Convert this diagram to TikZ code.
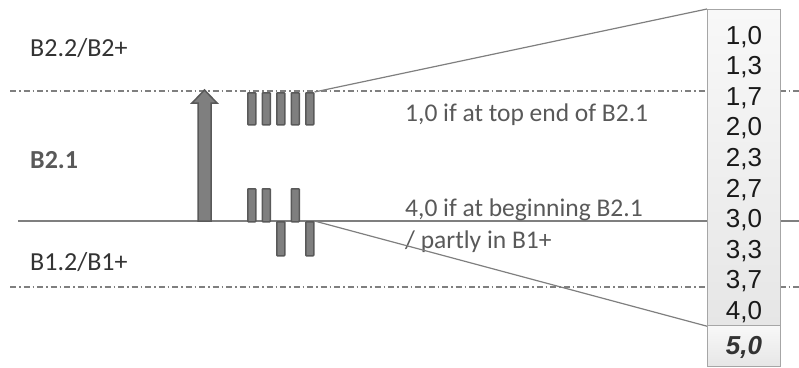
\documentclass[tikz,border=0pt]{standalone}
\usepackage{fontspec}
\setmainfont{Carlito}
\newfontfamily\numfont{Liberation Sans}
\definecolor{linegray}{HTML}{7F7F7F}
\definecolor{edgegray}{HTML}{595959}
\definecolor{txtgray}{HTML}{333333}
\definecolor{boxedge}{HTML}{A6A6A6}
\definecolor{boxtop}{HTML}{F8F8F8}
\definecolor{boxbot}{HTML}{E6E6E6}
\newcommand{\gradefont}{\numfont\fontsize{26}{30}\selectfont}
\tikzset{
  level/.style={anchor=base west, inner sep=0pt, text=txtgray, font=\fontsize{26}{30}\selectfont},
  note/.style={anchor=base west, inner sep=0pt, text=edgegray, font=\fontsize{25.5}{30}\selectfont},
  dashdot/.style={draw=linegray, line width=1.2pt, dash pattern=on 6pt off 3pt on 1.5pt off 3pt},
  bar/.style={draw=edgegray, fill=linegray, line width=1.5pt, rounded corners=0.8pt,
              minimum width=8pt, minimum height=32pt, inner sep=0pt, anchor=north west},
  grade/.style={anchor=base, inner sep=0pt, text=black!90},
  cell/.style={draw=boxedge, line width=1.2pt, top color=boxtop, bottom color=boxbot,
               inner sep=0pt, anchor=north west, minimum width=73pt},
  fan/.style={draw=linegray, line width=1.2pt}
}
\begin{document}
\begin{tikzpicture}[x=1pt, y=-1pt]
\useasboundingbox (0,0) rectangle (799,367);

% level boundaries
\coordinate (topL) at (10,91);
\coordinate (topR) at (799,91);
\coordinate (midL) at (18,221);
\coordinate (midR) at (799,221);
\coordinate (lowL) at (10,287);
\coordinate (lowR) at (799,287);
\draw[dashdot] (topL) -- (topR);
\draw[draw=linegray, line width=1.5pt] (midL) -- (midR);
\draw[dashdot] (lowL) -- (lowR);

% level names
\node[level] (lvlB22) at (30,56) {B2.2/B2+};
\node[level, text=edgegray, font=\fontsize{26}{30}\selectfont\bfseries] (lvlB21) at (30,168) {B2.1};
\node[level] (lvlB12) at (30,270) {B1.2/B1+};

% progress arrow through B2.1
\draw[draw=edgegray, fill=linegray, line width=1.5pt, line join=miter]
  (198,221) -- (198,103) -- (192,103) -- (204.5,90) -- (217,103) -- (211,103) -- (211,221) -- cycle;

% bars at the top end of B2.1
\node[bar] (t1) at (247,92) {};
\node[bar] (t2) at (261.5,92) {};
\node[bar] (t3) at (276,92) {};
\node[bar] (t4) at (290.5,92) {};
\node[bar] (t5) at (305,92) {};

% bars at the beginning of B2.1 / partly in B1+
\node[bar, minimum height=33pt] (b1) at (247,188) {};
\node[bar, minimum height=33pt] (b2) at (261.5,188) {};
\node[bar, minimum height=34pt] (b3) at (276,221) {};
\node[bar, minimum height=33pt] (b4) at (290.5,188) {};
\node[bar, minimum height=34pt] (b5) at (305,221) {};

% explanations
\node[note] (noteTop) at (405,121) {1,0 if at top end of B2.1};
\node[note] (noteLow1) at (405,216) {4,0 if at beginning B2.1};
\node[note] (noteLow2) at (405,248) {/ partly in B1+};

% grade scale
\node[cell, minimum height=316pt] (scale) at (707,9) {};
\node[cell, minimum height=41pt] (fail) at (707,325) {};
\foreach \g [count=\i from 0] in {{1,0},{1,3},{1,7},{2,0},{2,3},{2,7},{3,0},{3,3},{3,7},{4,0}}{
  \node[grade] (g\i) at (744,{44+30.6*\i}) {\gradefont\g};
}
\node[grade, text=black!80] (g10) at (744,354) {\gradefont\bfseries\itshape 5,0};

% fan from the bars to the scale
\draw[fan] (t5.north east) -- (scale.north west);
\draw[fan] (b5.north east) -- (scale.south west);
\end{tikzpicture}
\end{document}
